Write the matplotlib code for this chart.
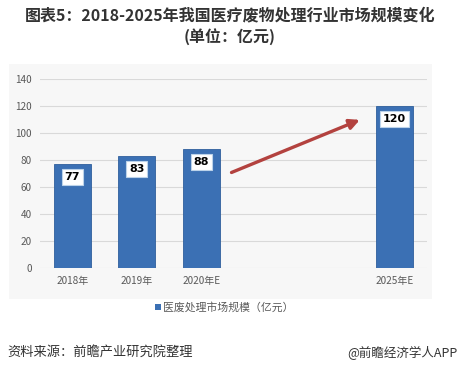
import matplotlib.pyplot as plt
from matplotlib.patches import Rectangle

plt.rcParams['font.family'] = ['Noto Sans CJK SC', 'DejaVu Sans']

# 数据
pos = [0, 1, 2, 5]
values = [77, 83, 88, 120]
labels = ['2018年', '2019年', '2020年E', '2025年E']

fig = plt.figure(figsize=(4.6, 3.74), dpi=100)
fig.patch.set_facecolor('white')

# 图表区浅灰底
fig.patches.append(Rectangle((0.02, 0.2), 0.92, 0.63, transform=fig.transFigure,
                             facecolor='#f7f7f7', edgecolor='none', zorder=-5))

ax = fig.add_axes([0.087, 0.283, 0.841, 0.506])
ax.set_facecolor('none')

ax.bar(pos, values, width=0.57, color='#3b70b4', edgecolor='#2f5f9c', linewidth=0.6, zorder=3)

for x, v in zip(pos, values):
    ax.text(x, v - 9.5, str(v), ha='center', va='center', fontsize=8, fontweight='bold',
            family='DejaVu Sans', color='black', zorder=5,
            bbox=dict(boxstyle='square,pad=0.25', facecolor='white', edgecolor='#bcd3ea', linewidth=0.8))

ax.annotate('', xy=(4.5, 110.5), xytext=(2.43, 70),
            arrowprops=dict(arrowstyle='-|>,head_length=0.6,head_width=0.3', color='#b3423f', lw=2.4),
            zorder=6)

ax.set_xlim(-0.5, 5.5)
ax.set_ylim(0, 140)
ax.set_yticks(range(0, 141, 20))
ax.set_xticks(pos)
ax.set_xticklabels(labels)
ax.grid(axis='y', color='#d9d9d9', linewidth=0.8, zorder=0)
for s in ax.spines.values():
    s.set_visible(False)
ax.tick_params(length=0, labelsize=7.2, colors='#595959')
ax.tick_params(axis='x', pad=6)
ax.tick_params(axis='y', pad=6)

# 图例
fig.patches.append(Rectangle((0.337, 0.172), 0.013, 0.016, transform=fig.transFigure,
                             facecolor='#3b70b4', edgecolor='none'))
fig.text(0.355, 0.179, '医废处理市场规模（亿元）', fontsize=7.8, color='#595959', ha='left', va='center')

# 标题
fig.text(0.5, 0.96, '图表5：2018-2025年我国医疗废物处理行业市场规模变化', fontsize=11.5,
         fontweight='bold', color='#333333', ha='center', va='center')
fig.text(0.5, 0.902, '(单位：亿元)', fontsize=11.5, fontweight='bold', color='#333333',
         ha='center', va='center')

# 来源
fig.text(0.017, 0.057, '资料来源：前瞻产业研究院整理', fontsize=9.5, color='#333333', ha='left', va='center')
fig.text(0.995, 0.057, '@前瞻经济学人APP', fontsize=9, color='#333333', ha='right', va='center')

fig.savefig('out.png', dpi=100)
